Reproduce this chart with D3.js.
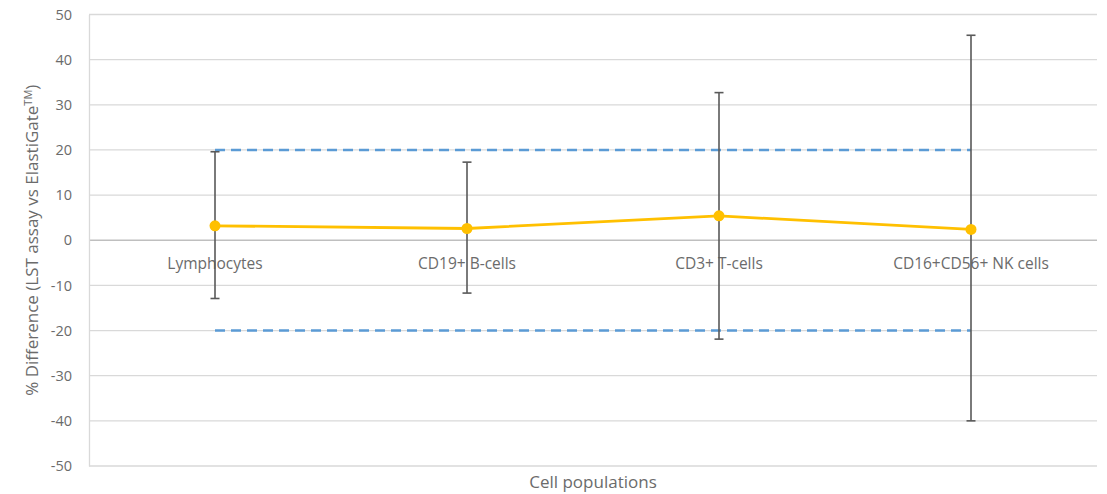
<!DOCTYPE html>
<html><head><meta charset="utf-8">
<script src="https://cdn.jsdelivr.net/npm/d3@7"></script>
<style>
body{margin:0;background:#fff;}
text{font-family:"Open Sans","Liberation Sans",Arial,sans-serif;fill:#6b6b6b;}
</style></head>
<body><svg id="c" width="1107" height="494"></svg>
<script>
const categories = ["Lymphocytes","CD19+ B-cells","CD3+ T-cells","CD16+CD56+ NK cells"];
const meanDiff = [3.2, 2.6, 5.4, 2.4];
const upperErr = [19.6, 17.3, 32.7, 45.4];
const lowerErr = [-12.9, -11.7, -21.9, -40.0];
const limitUpper = [20, 20, 20, 20];
const limitLower = [-20, -20, -20, -20];
const yTicks = [50,40,30,20,10,0,-10,-20,-30,-40,-50];

const svg = d3.select("#c");
const L = 89, R = 1097, T = 14.5, B = 466;
const x = d3.scaleBand().domain(categories).range([L, R]);
const cx = d => x(d) + x.bandwidth()/2;
const y = d3.scaleLinear().domain([-50, 50]).range([B, T]);

// gridlines
svg.append("g").selectAll("line").data(yTicks).join("line")
  .attr("x1", L).attr("x2", R)
  .attr("y1", d => y(d)).attr("y2", d => y(d))
  .attr("stroke", d => d === 0 ? "#bfbfbf" : "#d9d9d9").attr("stroke-width", 1.3);

// left axis
const yAxis = d3.axisLeft(y).tickValues(yTicks).tickSize(0).tickPadding(17)
  .tickFormat(d => String(d));
const gy = svg.append("g").attr("transform", `translate(${L},0)`).call(yAxis);
gy.select(".domain").attr("stroke", "#d9d9d9").attr("stroke-width", 1.3);
gy.selectAll("text").attr("font-size", 14.5).style("fill", "#6b6b6b")
  .attr("font-family", '"Open Sans","Liberation Sans",Arial,sans-serif');

// category labels below zero line
svg.append("g").selectAll("text").data(categories).join("text")
  .attr("x", d => cx(d)).attr("y", y(0) + 29)
  .attr("text-anchor", "middle").attr("font-size", 15.5)
  .text(d => d);

// limit dashed lines
const limLine = d3.line().x((d, i) => cx(categories[i])).y(d => y(d));
[limitUpper, limitLower].forEach(arr => {
  svg.append("path").datum(arr).attr("d", limLine)
    .attr("fill", "none").attr("stroke", "#5b9bd5")
    .attr("stroke-width", 2.4).attr("stroke-dasharray", "10,6");
});

// error bars
const eg = svg.append("g");
categories.forEach((c, i) => {
  eg.append("line").attr("x1", cx(c)).attr("x2", cx(c))
    .attr("y1", y(upperErr[i])).attr("y2", y(lowerErr[i]))
    .attr("stroke", "#595959").attr("stroke-width", 1.6);
  [upperErr[i], lowerErr[i]].forEach(v => {
    eg.append("line").attr("x1", cx(c) - 4.5).attr("x2", cx(c) + 4.5)
      .attr("y1", y(v)).attr("y2", y(v))
      .attr("stroke", "#595959").attr("stroke-width", 1.6);
  });
});

// mean line
const mLine = d3.line().x((d, i) => cx(categories[i])).y(d => y(d));
svg.append("path").datum(meanDiff).attr("d", mLine)
  .attr("fill", "none").attr("stroke", "#ffc000").attr("stroke-width", 2.8);
svg.append("g").selectAll("circle").data(meanDiff).join("circle")
  .attr("cx", (d, i) => cx(categories[i])).attr("cy", d => y(d))
  .attr("r", 5.5).attr("fill", "#ffc000");

// axis titles
svg.append("text").attr("x", (L + R) / 2).attr("y", 488)
  .attr("text-anchor", "middle").attr("font-size", 17).text("Cell populations");

const yt = svg.append("text")
  .attr("transform", `translate(38,${(T + B) / 2}) rotate(-90)`)
  .attr("text-anchor", "middle").attr("font-size", 17);
yt.append("tspan").text("% Difference (LST assay vs ElastiGate");
yt.append("tspan").attr("dy", -6).attr("font-size", 11).text("TM");
yt.append("tspan").attr("dy", 6).text(")");
</script></body></html>
